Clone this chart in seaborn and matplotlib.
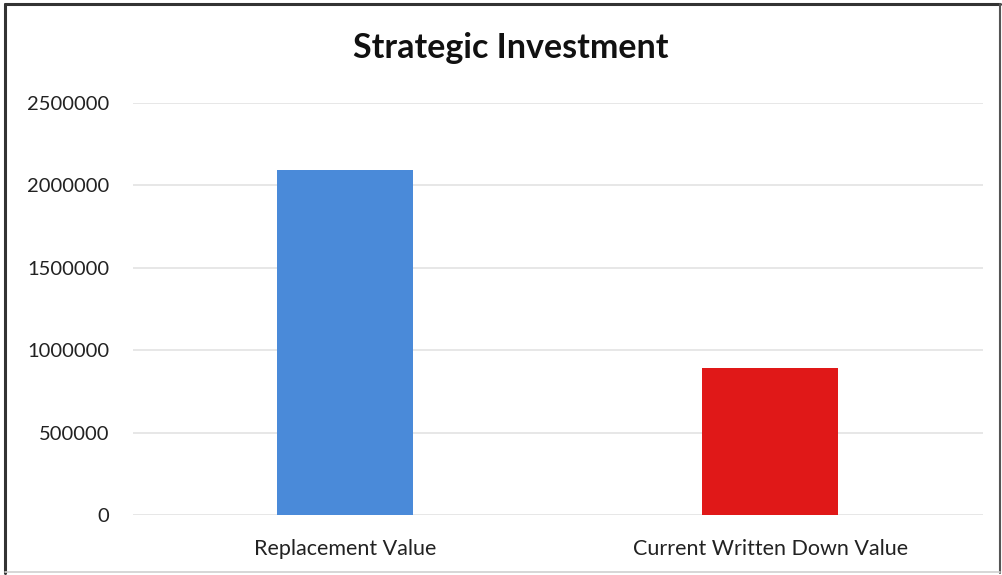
import matplotlib
matplotlib.use("Agg")
import matplotlib.pyplot as plt
from matplotlib.lines import Line2D
import seaborn as sns
import pandas as pd

categories = ["Replacement Value", "Current Written Down Value"]
values = [2095000, 895000]
bar_colors = ["#4a8ad9", "#e01818"]
y_ticks = [0, 500000, 1000000, 1500000, 2000000, 2500000]

sns.set_theme(style="white")
plt.rcParams["font.family"] = ["Lato", "DejaVu Sans"]

df = pd.DataFrame({"category": categories, "value": values})

W, H = 1003, 575
fig = plt.figure(figsize=(W / 100, H / 100), dpi=100)
# axes spans x 133..983 px, y 103..515 px
ax = fig.add_axes([133 / W, (H - 515) / H, 850 / W, 412 / H])

sns.barplot(data=df, x="category", y="value", hue="category",
            palette=bar_colors, width=0.32, legend=False, ax=ax,
            saturation=1, edgecolor="none")

ax.set_ylim(0, 2500000)
ax.set_yticks(y_ticks)
ax.set_yticklabels([str(t) for t in y_ticks])
ax.yaxis.grid(True, color="#e3e3e3", linewidth=1.2)
ax.set_axisbelow(True)
for s in ax.spines.values():
    s.set_visible(False)
ax.tick_params(axis="both", length=0, colors="#222222")
ax.tick_params(axis="y", pad=17, labelsize=14.5)
ax.tick_params(axis="x", pad=17, labelsize=15.5)
ax.set_xlabel("")
ax.set_ylabel("")

fig.text(511 / W, 1 - 48 / H, "Strategic Investment", ha="center", va="center",
         fontsize=24.5, fontweight="bold", color="#111111")

# outer frame of the chart
def px(x, y):
    return x / W, 1 - y / H

frame = [
    ((5, 4), (1000, 4), "#333333", 2.2),
    ((5, 4), (5, 573), "#333333", 2.2),
    ((1000, 4), (1000, 573), "#555555", 1.5),
    ((5, 572), (1000, 572), "#cfcfcf", 1.2),
]
for (x0, y0), (x1, y1), c, lw in frame:
    (a, b), (cc, d) = px(x0, y0), px(x1, y1)
    fig.lines.append(Line2D([a, cc], [b, d], transform=fig.transFigure,
                            color=c, linewidth=lw))

fig.savefig("out.png", dpi=100, facecolor="white")
